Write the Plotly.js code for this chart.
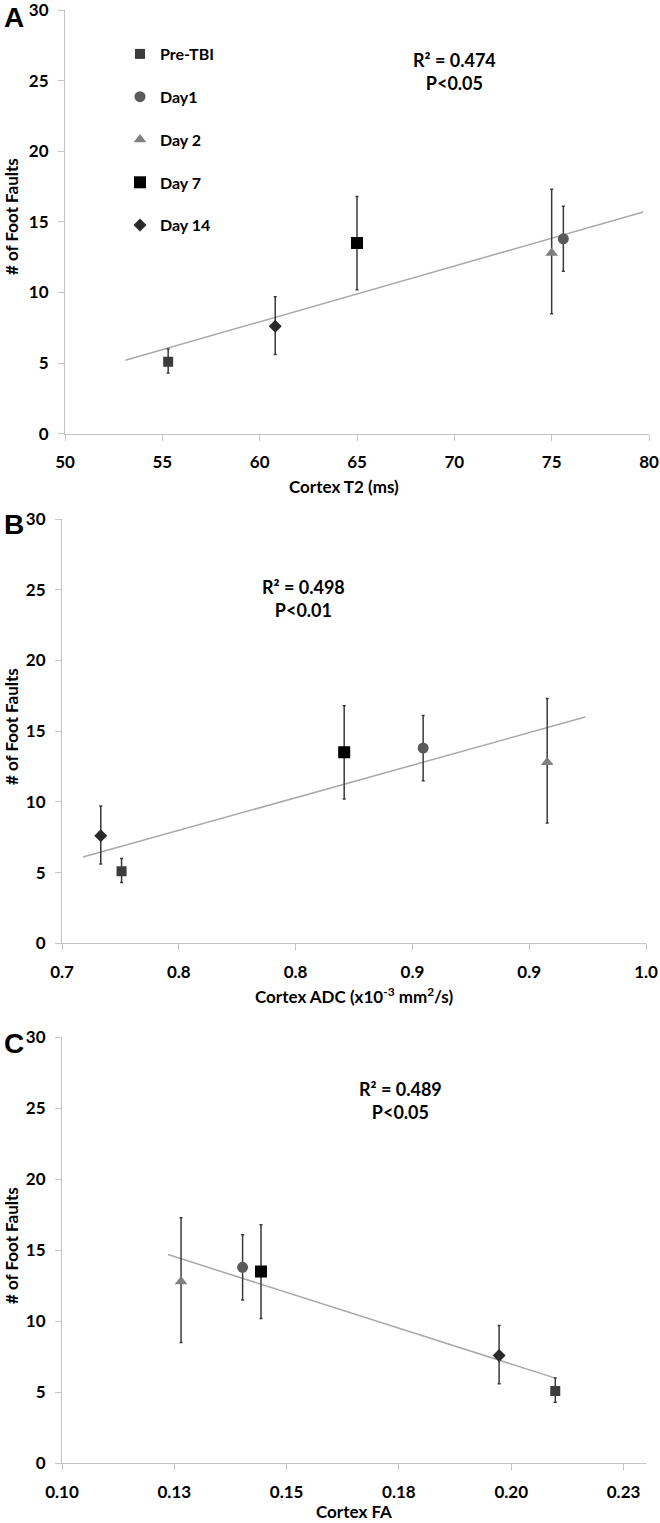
<!DOCTYPE html>
<html>
<head>
<meta charset="utf-8">
<script src="https://cdn.plot.ly/plotly-3.0.1.min.js"></script>
<style>
html,body{margin:0;padding:0;background:#fff;}
#chart{width:660px;height:1523px;}
</style>
</head>
<body>
<div id="chart"></div>
<script>
// ---- data ----
const categories = ['Pre-TBI', 'Day1', 'Day 2', 'Day 7', 'Day 14'];
const footFaults = [5.1, 13.8, 12.8, 13.5, 7.6];
const errPlus = [0.9, 2.3, 4.5, 3.3, 2.1];
const errMinus = [0.8, 2.3, 4.3, 3.3, 2.0];

const cortexT2 = [55.3, 75.6, 75.0, 65.0, 60.8];
const cortexADC = [0.7255, 0.8546, 0.9077, 0.8208, 0.7166];
const cortexFA = [0.2098, 0.1402, 0.1265, 0.1443, 0.1973];

const trendT2X = [53.1, 79.7];
const trendT2Y = [5.2, 15.7];
const trendADCX = [0.709, 0.924];
const trendADCY = [6.1, 16.0];
const trendFAX = [0.1236, 0.2098];
const trendFAY = [14.7, 6.0];

const tickValsT2 = [50, 55, 60, 65, 70, 75, 80];
const tickTextT2 = ['50', '55', '60', '65', '70', '75', '80'];
const tickValsADC = [0.70, 0.75, 0.80, 0.85, 0.90, 0.95];
const tickTextADC = ['0.7', '0.8', '0.8', '0.9', '0.9', '1.0'];
const tickValsFA = [0.100, 0.125, 0.150, 0.175, 0.200, 0.225];
const tickTextFA = ['0.10', '0.13', '0.15', '0.18', '0.20', '0.23'];
const tickValsY = [0, 5, 10, 15, 20, 25, 30];
const tickTextY = ['0', '5', '10', '15', '20', '25', '30'];

const statsText = ['R² = 0.474<br>P&lt;0.05', 'R² = 0.498<br>P&lt;0.01', 'R² = 0.489<br>P&lt;0.05'];
const xTitles = ['Cortex T2 (ms)', 'Cortex ADC (x10<sup>-3</sup> mm<sup>2</sup>/s)', 'Cortex FA'];
const yTitle = '# of Foot Faults';
const panelLabels = ['A', 'B', 'C'];

// ---- styles ----
const symbols = ['square', 'circle', 'triangle-up', 'square', 'diamond'];
const colors = ['#3c3c3c', '#5a5a5a', '#7f7f7f', '#000000', '#2a2a2a'];
const sizes = [10, 11, 11, 12, 10];

const H = 1523, W = 660;
const FONT = 'Lato, "Open Sans", sans-serif';
const axisGray = '#c4c4c4';

const panels = [
  {xs: cortexT2, tx: trendT2X, ty: trendT2Y, xr: [50, 80], tv: tickValsT2, tt: tickTextT2,
   xd: [65, 649], yd: [10, 433.7], stat: [70.0, 25.65], xtitle: [344, 487], ytitle: 217, lab: 17},
  {xs: cortexADC, tx: trendADCX, ty: trendADCY, xr: [0.70, 0.95], tv: tickValsADC, tt: tickTextADC,
   xd: [62, 646], yd: [519, 943.3], stat: [0.8032, 24.4], xtitle: [354, 995], ytitle: 727, lab: 524},
  {xs: cortexFA, tx: trendFAX, ty: trendFAY, xr: [0.10, 0.23], tv: tickValsFA, tt: tickTextFA,
   xd: [62, 646], yd: [1037.3, 1463.3], stat: [0.1753, 25.58], xtitle: [354, 1511], ytitle: 1246, lab: 1043}
];

const traces = [];
const layout = {
  width: W, height: H, autosize: false,
  margin: {l: 0, r: 0, t: 0, b: 0, pad: 0},
  paper_bgcolor: '#ffffff', plot_bgcolor: '#ffffff',
  font: {family: FONT, size: 17, color: '#000', weight: 'bold'},
  showlegend: true,
  legend: {
    x: 120 / W, xanchor: 'left', y: 1 - 37 / H, yanchor: 'top',
    traceorder: 'grouped', tracegroupgap: 19,
    font: {family: FONT, size: 16, color: '#000', weight: 'bold'},
    bgcolor: 'rgba(0,0,0,0)', borderwidth: 0
  },
  annotations: []
};

panels.forEach((p, k) => {
  const n = k === 0 ? '' : String(k + 1);
  const xa = 'x' + n, ya = 'y' + n;
  // trendline
  traces.push({
    x: p.tx, y: p.ty, xaxis: xa, yaxis: ya, type: 'scatter', mode: 'lines',
    line: {color: '#a9a9a9', width: 1.5}, showlegend: false, hoverinfo: 'skip'
  });
  categories.forEach((c, i) => {
    traces.push({
      x: [p.xs[i]], y: [footFaults[i]], xaxis: xa, yaxis: ya,
      type: 'scatter', mode: 'markers', name: c,
      legendgroup: c, showlegend: k === 0,
      marker: {symbol: symbols[i], color: colors[i], size: sizes[i], line: {width: 0}},
      error_y: {type: 'data', symmetric: false, array: [errPlus[i]], arrayminus: [errMinus[i]],
                color: '#3a3a3a', thickness: 1.5, width: 1.5}
    });
  });
  const xKey = 'xaxis' + n, yKey = 'yaxis' + n;
  layout[xKey] = {
    domain: [p.xd[0] / W, p.xd[1] / W], anchor: ya, range: p.xr,
    tickmode: 'array', tickvals: p.tv, ticktext: p.tt,
    showgrid: false, zeroline: false, showline: true, linecolor: axisGray, linewidth: 1,
    ticks: 'outside', ticklen: 6, tickcolor: axisGray, tickwidth: 1,
    ticklabelstandoff: 7, ticklabeloverflow: 'allow',
    tickfont: {family: FONT, size: 17, color: '#000', weight: 'bold'},
    automargin: false, fixedrange: true
  };
  layout[yKey] = {
    domain: [1 - p.yd[1] / H, 1 - p.yd[0] / H], anchor: xa, range: [0, 30],
    tickmode: 'array', tickvals: tickValsY, ticktext: tickTextY,
    showgrid: false, zeroline: false, showline: true, linecolor: axisGray, linewidth: 1,
    ticks: 'outside', ticklen: 6, tickcolor: axisGray, tickwidth: 1,
    ticklabelstandoff: 6, ticklabeloverflow: 'allow',
    tickfont: {family: FONT, size: 17, color: '#000', weight: 'bold'},
    automargin: false, fixedrange: true
  };
  // R² / P annotation
  layout.annotations.push({
    xref: xa, yref: ya, x: p.stat[0], y: p.stat[1], text: statsText[k],
    showarrow: false, xanchor: 'center', yanchor: 'middle', align: 'center',
    font: {family: FONT, size: 18, color: '#000', weight: 'bold'}
  });
  // x-axis title
  layout.annotations.push({
    xref: 'paper', yref: 'paper', x: p.xtitle[0] / W, y: 1 - p.xtitle[1] / H,
    text: xTitles[k], showarrow: false, xanchor: 'center', yanchor: 'middle',
    font: {family: FONT, size: 17, color: '#000', weight: 'bold'}
  });
  // y-axis title
  layout.annotations.push({
    xref: 'paper', yref: 'paper', x: 11 / W, y: 1 - p.ytitle / H,
    text: yTitle, showarrow: false, textangle: -90, xanchor: 'center', yanchor: 'middle',
    font: {family: FONT, size: 17, color: '#000', weight: 'bold'}
  });
  // panel label
  layout.annotations.push({
    xref: 'paper', yref: 'paper', x: 2 / W, y: 1 - p.lab / H,
    text: panelLabels[k], showarrow: false, xanchor: 'left', yanchor: 'middle',
    font: {family: 'Liberation Sans, Arial, sans-serif', size: 28, color: '#000', weight: 'bold'}
  });
});

Plotly.newPlot('chart', traces, layout, {staticPlot: true, displayModeBar: false});
</script>
</body>
</html>
